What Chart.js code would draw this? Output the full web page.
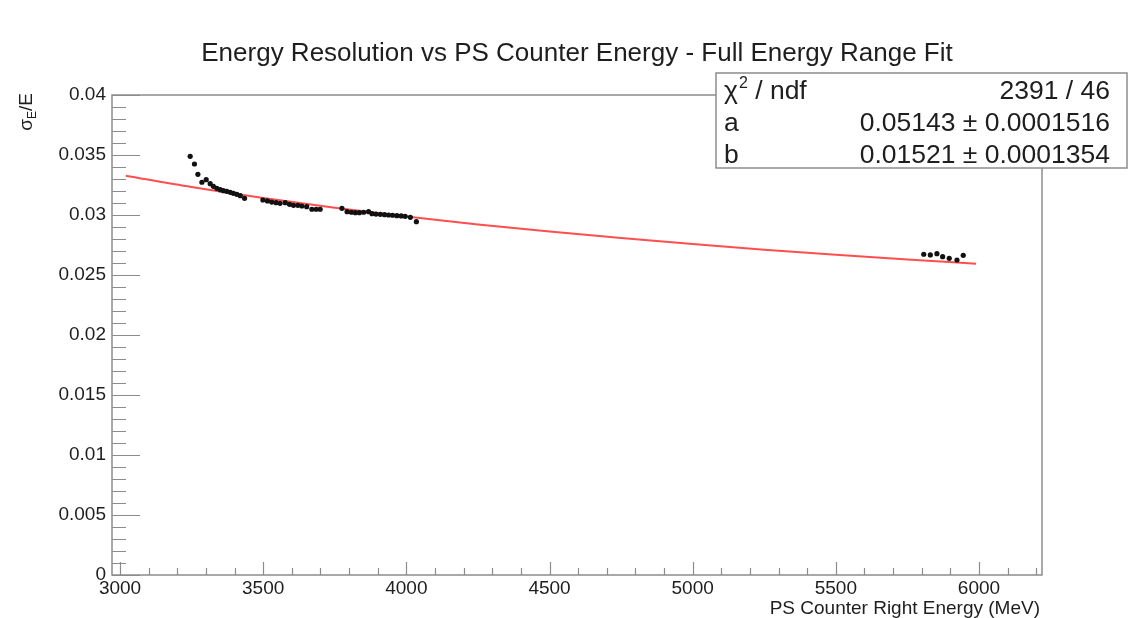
<!DOCTYPE html>
<html>
<head>
<meta charset="utf-8">
<script src="https://cdn.jsdelivr.net/npm/chart.js@4"></script>
<style>
  html, body { margin: 0; padding: 0; background: #fff; }
  canvas { display: block; }
</style>
</head>
<body>
<canvas id="c" width="1130" height="618"></canvas>
<script>
// Measured resolution points (sigma_E / E) per PS counter energy bin
const energyMeV = [
  3245, 3260, 3272, 3286, 3301, 3315, 3326, 3338, 3350, 3361, 3373, 3385, 3396, 3408, 3420, 3435,
  3499, 3515, 3530, 3545, 3559, 3577, 3592, 3606, 3621, 3635, 3652, 3670, 3685, 3699,
  3775, 3793, 3808, 3822, 3836, 3851, 3868, 3880, 3894, 3909, 3924, 3938, 3952, 3967, 3982, 3996, 4014, 4035,
  5807, 5830, 5853, 5873, 5896, 5923, 5945
];
const resolution = [
  0.03489, 0.03425, 0.03339, 0.03273, 0.03294, 0.03261, 0.03239, 0.03222, 0.03211, 0.03203, 0.03197, 0.03189, 0.03181, 0.03172, 0.03161, 0.03139,
  0.03125, 0.03117, 0.03108, 0.03103, 0.03097, 0.03103, 0.03089, 0.03081, 0.03081, 0.03075, 0.03069, 0.03048, 0.03048, 0.03048,
  0.03056, 0.03028, 0.03023, 0.03019, 0.03019, 0.03023, 0.03028, 0.03011, 0.03008, 0.03006, 0.03003, 0.03000, 0.02998, 0.02994, 0.02992, 0.02989, 0.02981, 0.02944,
  0.02673, 0.02667, 0.02678, 0.02653, 0.02639, 0.02625, 0.02664
];

// Fit curve sqrt(a^2/E + b^2), E in GeV, tabulated
const fitEnergy = [3020, 3250, 3500, 3750, 4000, 4250, 4500, 4750, 5000, 5250, 5500, 5750, 5990];
const fitResolution = [0.033274, 0.032329, 0.031417, 0.030605, 0.029876, 0.029218, 0.028620, 0.028075, 0.027574, 0.027114, 0.026688, 0.026293, 0.025941];

const xTickValues = [3000, 3500, 4000, 4500, 5000, 5500, 6000];
const yTickValues = [0, 0.005, 0.01, 0.015, 0.02, 0.025, 0.03, 0.035, 0.04];

const titleText = 'Energy Resolution vs PS Counter Energy - Full Energy Range Fit';
const xTitle = 'PS Counter Right Energy (MeV)';
const statLabels = ['/ ndf', 'a', 'b'];
const statValues = ['2391 / 46', '0.05143 \u00b1 0.0001516', '0.01521 \u00b1 0.0001354'];

const FONT = '"Liberation Sans", Arial, Helvetica, sans-serif';
const INK = '#1e1e1e';
const FRAME = '#8c8c8c';

// frame + ROOT-style inward ticks
const frameTicks = {
  id: 'frameTicks',
  beforeDatasetsDraw(chart) {
    const { ctx, chartArea: a, scales: { x, y } } = chart;
    ctx.save();
    ctx.strokeStyle = FRAME;
    ctx.lineWidth = 1.5;
    ctx.strokeRect(a.left, a.top, a.right - a.left, a.bottom - a.top);
    ctx.lineWidth = 1.2;
    ctx.beginPath();
    for (let v = Math.ceil(x.min / 100) * 100; v <= x.max; v += 100) {
      const px = Math.round(x.getPixelForValue(v)) + 0.5;
      const len = v % 500 === 0 ? 13 : 7;
      ctx.moveTo(px, a.bottom);
      ctx.lineTo(px, a.bottom - len);
    }
    for (let i = 0; i <= 40; i++) {
      const py = Math.round(y.getPixelForValue(i * 0.001)) + 0.5;
      const len = i % 5 === 0 ? 28 : 14;
      ctx.moveTo(a.left, py);
      ctx.lineTo(a.left + len, py);
    }
    ctx.stroke();
    ctx.restore();
  }
};

// title, axis titles and the fit statistics box
const annotations = {
  id: 'annotations',
  afterDraw(chart) {
    const { ctx, chartArea: a } = chart;
    ctx.save();
    ctx.fillStyle = INK;

    ctx.font = '26px ' + FONT;
    ctx.textAlign = 'center';
    ctx.textBaseline = 'alphabetic';
    ctx.fillText(titleText, 577, 61);

    ctx.font = '19px ' + FONT;
    ctx.textAlign = 'right';
    ctx.fillText(xTitle, a.right - 2, 614);

    // sigma_E / E, rotated
    ctx.font = '19px ' + FONT;
    const w1 = ctx.measureText('\u03c3').width;
    const w3 = ctx.measureText('/E').width;
    ctx.font = '12px ' + FONT;
    const w2 = ctx.measureText('E').width;
    ctx.save();
    ctx.translate(32, 93 + w1 + w2 + w3);
    ctx.rotate(-Math.PI / 2);
    ctx.textAlign = 'left';
    ctx.font = '19px ' + FONT;
    ctx.fillText('\u03c3', 0, 0);
    ctx.font = '12px ' + FONT;
    ctx.fillText('E', w1, 4);
    ctx.font = '19px ' + FONT;
    ctx.fillText('/E', w1 + w2, 0);
    ctx.restore();

    // stats box
    ctx.fillStyle = '#fff';
    ctx.fillRect(716, 73, 411, 95);
    ctx.strokeStyle = FRAME;
    ctx.lineWidth = 1.5;
    ctx.strokeRect(716, 73, 411, 95);
    ctx.fillStyle = INK;
    const rows = [99, 131, 163];
    const lx = 724;
    rows.forEach((by, i) => {
      ctx.textAlign = 'left';
      ctx.font = '26.5px ' + FONT;
      if (i === 0) {
        ctx.fillText('\u03c7', lx, by);
        const cw = ctx.measureText('\u03c7').width;
        ctx.font = '16px ' + FONT;
        ctx.fillText('2', lx + cw + 1, by - 11);
        const sw = ctx.measureText('2').width;
        ctx.font = '26.5px ' + FONT;
        ctx.fillText(' ' + statLabels[0], lx + cw + sw + 1, by);
      } else {
        ctx.fillText(statLabels[i], lx, by);
      }
      ctx.textAlign = 'right';
      ctx.fillText(statValues[i], 1110, by);
    });
    ctx.restore();
  }
};

new Chart(document.getElementById('c'), {
  type: 'scatter',
  data: {
    datasets: [
      {
        label: 'fit',
        type: 'line',
        data: fitEnergy.map((e, i) => ({ x: e, y: fitResolution[i] })),
        borderColor: 'rgb(255, 78, 78)',
        borderWidth: 2,
        pointRadius: 0,
        cubicInterpolationMode: 'monotone',
        fill: false,
        order: 2
      },
      {
        label: 'data',
        data: energyMeV.map((e, i) => ({ x: e, y: resolution[i] })),
        backgroundColor: '#111',
        borderColor: '#111',
        pointRadius: 2.6,
        pointBorderWidth: 0,
        showLine: false,
        order: 1
      }
    ]
  },
  options: {
    responsive: false,
    animation: false,
    devicePixelRatio: 1,
    layout: { padding: { left: 0, right: 88, top: 95, bottom: 0 } },
    plugins: { legend: { display: false }, tooltip: { enabled: false }, title: { display: false } },
    scales: {
      x: {
        type: 'linear',
        min: 2972,
        max: 6220,
        afterBuildTicks: s => { s.ticks = xTickValues.map(v => ({ value: v })); },
        afterFit: s => { s.height = 43; },
        grid: { display: false, drawTicks: false },
        border: { display: false },
        ticks: {
          autoSkip: false,
          maxRotation: 0,
          padding: 2,
          color: INK,
          font: { family: FONT, size: 19 },
          callback: v => String(v)
        }
      },
      y: {
        type: 'linear',
        min: 0,
        max: 0.04,
        afterBuildTicks: s => { s.ticks = yTickValues.map(v => ({ value: v })); },
        afterFit: s => { s.width = 112; },
        grid: { display: false, drawTicks: false },
        border: { display: false },
        ticks: {
          autoSkip: false,
          padding: 6,
          color: INK,
          font: { family: FONT, size: 19 },
          callback: v => String(+(+v).toFixed(3))
        }
      }
    }
  },
  plugins: [frameTicks, annotations]
});
</script>
</body>
</html>
